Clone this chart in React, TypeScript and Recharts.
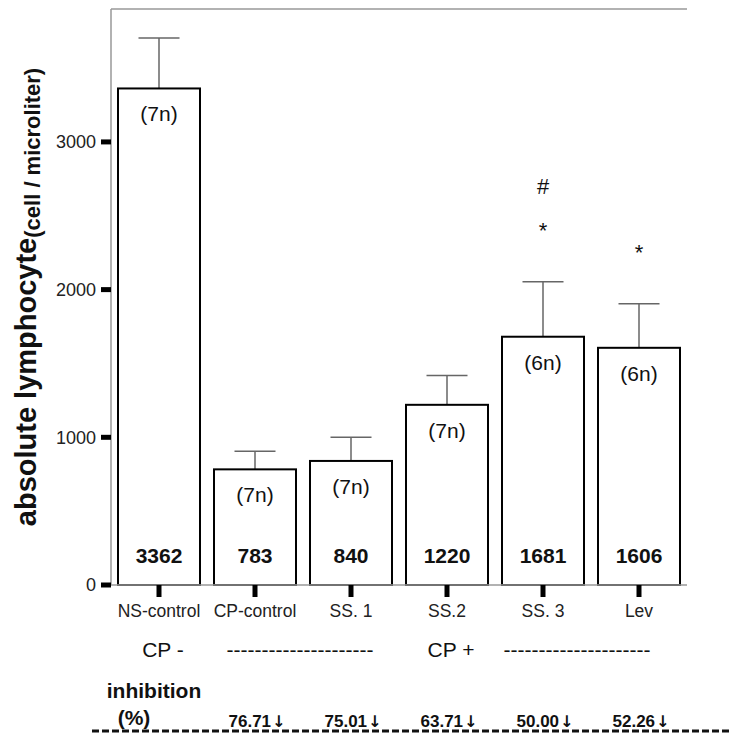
import { BarChart, Bar, XAxis, YAxis, ReferenceLine } from 'recharts'

const groups = ['NS-control', 'CP-control', 'SS. 1', 'SS.2', 'SS. 3', 'Lev']
const means = [3362, 783, 840, 1220, 1681, 1606]
const sem = [341, 122, 160, 199, 373, 299]
const sampleSize = [7, 7, 7, 7, 6, 6]
const inhibition = [null, 76.71, 75.01, 63.71, 50.0, 52.26]
const vsNormal = ['', '', '', '', '*', '*']
const vsCp = ['', '', '', '', '#', '']
const dashes = '---------------------'
const cpRow = ['CP -', dashes, '', 'CP +', dashes, '']
const yTicks = [0, 1000, 2000, 3000]

const font = 'Arial, "Liberation Sans", sans-serif'
const frame = '#999'

const data = groups.map((name, i) => ({
  name,
  mean: means[i],
  sem: sem[i],
  n: sampleSize[i],
  star: vsNormal[i],
  hash: vsCp[i],
}))

function BarShape(props: any) {
  const { x, y, width, height, payload } = props
  const cx = x + width / 2
  // pixels per unit, taken from the bar the library sized
  const k = height / payload.mean
  const top = y - payload.sem * k
  const cap = width / 4
  return (
    <g>
      <line x1={cx} y1={y} x2={cx} y2={top} stroke="#666" strokeWidth={1.5} />
      <line x1={cx - cap} y1={top} x2={cx + cap} y2={top} stroke="#666" strokeWidth={1.5} />
      <rect x={x} y={y} width={width} height={height} fill="#fff" stroke="#000" strokeWidth={2} />
      <text x={cx} y={y + 33} textAnchor="middle" fontSize={21} fill="#111">
        ({payload.n}n)
      </text>
      <text x={cx} y={y + height - 22} textAnchor="middle" fontSize={21} fontWeight="bold" fill="#111">
        {payload.mean}
      </text>
      {payload.star && (
        <text x={cx} y={top - 44} textAnchor="middle" fontSize={22} fill="#111">
          {payload.star}
        </text>
      )}
      {payload.hash && (
        <text x={cx} y={top - 88} textAnchor="middle" fontSize={22} fill="#111">
          {payload.hash}
        </text>
      )}
    </g>
  )
}

function GroupTick(props: any) {
  const { x, y, payload } = props
  const i = groups.indexOf(payload.value)
  const cp = cpRow[i]
  const inh = inhibition[i]
  const isDash = cp.startsWith('-')
  return (
    <g fontFamily={font}>
      <text x={x} y={y + 12} textAnchor="middle" fontSize={17.5} fill="#222">
        {payload.value}
      </text>
      {cp && (
        <text
          x={isDash ? x + (i === 1 ? 45 : 34) : x + 4}
          y={y + 52}
          textAnchor="middle"
          fontSize={21}
          fill="#111"
        >
          {cp}
        </text>
      )}
      {i === 0 && (
        <>
          <text x={x - 5} y={y + 93} textAnchor="middle" fontSize={21} fontWeight="bold" fill="#111">
            inhibition
          </text>
          <text x={x - 25} y={y + 120} textAnchor="middle" fontSize={21} fontWeight="bold" fill="#111">
            (%)
          </text>
          <line x1={92} y1={y + 126} x2={730} y2={y + 126} stroke="#111" strokeWidth={3} strokeDasharray="7 3" />
        </>
      )}
      {inh != null && (
        <text x={x + 2} y={y + 122} textAnchor="middle" fontSize={17} fontWeight="bold" fill="#111">
          {inh.toFixed(2)}
          <tspan fontFamily='"DejaVu Sans", sans-serif' fontSize={16} dx={1}>↓</tspan>
        </text>
      )}
    </g>
  )
}

function AxisTitle(props: any) {
  const vb = props.viewBox || { x: 0, y: 9, width: 111, height: 576 }
  const cx = vb.x + 36
  const cy = vb.y + vb.height / 2
  return (
    <text
      x={cx}
      y={cy}
      transform={`rotate(-90, ${cx}, ${cy})`}
      textAnchor="middle"
      fontFamily={font}
      fontWeight="bold"
      fill="#111"
    >
      <tspan fontSize={29}>absolute lymphocyte</tspan>
      <tspan fontSize={22} dy={4}>(cell / microliter)</tspan>
    </text>
  )
}

export default function App() {
  return (
    <div style={{ position: 'absolute', left: 0, top: 0, background: '#fff', fontFamily: font }}>
      <BarChart width={730} height={733} data={data} margin={{ top: 9, right: 43, bottom: 0, left: 0 }} barSize={82}>
        <XAxis
          dataKey="name"
          height={148}
          interval={0}
          tickSize={12}
          tickMargin={8}
          tickLine={{ stroke: '#000', strokeWidth: 5 }}
          axisLine={{ stroke: frame, strokeWidth: 1.5 }}
          tick={<GroupTick />}
        />
        <YAxis
          width={111}
          domain={[0, 3900]}
          ticks={yTicks}
          tickSize={10}
          tickMargin={5}
          tick={{ fill: '#222', fontSize: 18, fontFamily: font }}
          tickLine={{ stroke: '#000', strokeWidth: 5 }}
          axisLine={{ stroke: frame, strokeWidth: 1.5 }}
          label={<AxisTitle />}
        />
        <YAxis
          yAxisId="right"
          orientation="right"
          width={0}
          domain={[0, 3900]}
          tick={false}
          tickLine={false}
          axisLine={{ stroke: frame, strokeWidth: 1.5 }}
        />
        <ReferenceLine y={3900} stroke={frame} strokeWidth={1.5} />
        <Bar dataKey="mean" shape={<BarShape />} isAnimationActive={false} />
      </BarChart>
    </div>
  )
}
